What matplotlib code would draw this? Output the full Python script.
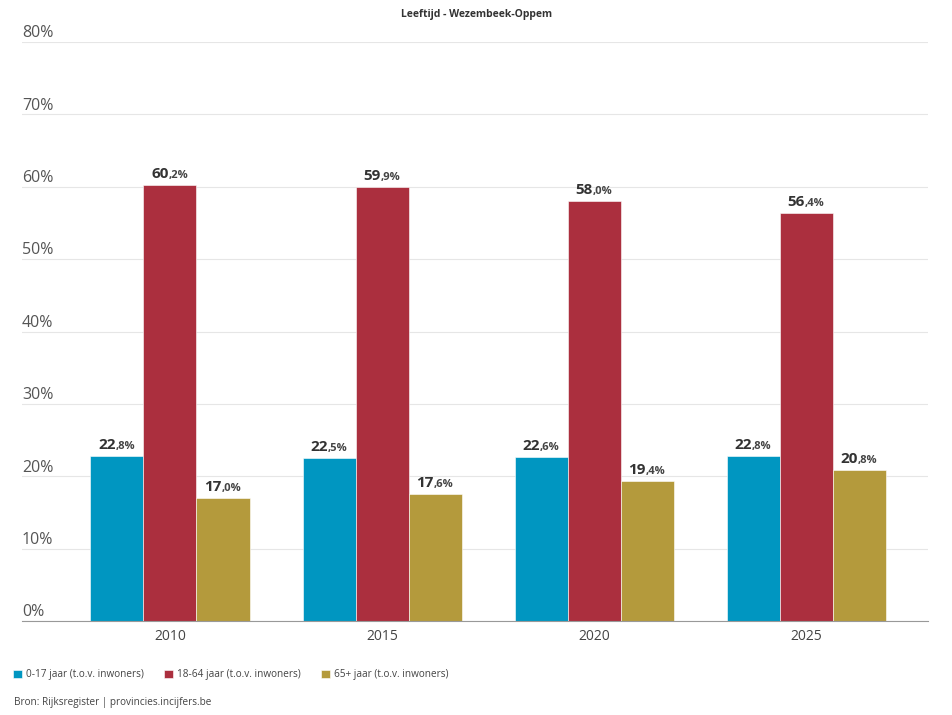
import matplotlib.pyplot as plt
import matplotlib.transforms as mtransforms
import numpy as np

plt.rcParams['font.family'] = ['Open Sans', 'DejaVu Sans']

years = ['2010', '2015', '2020', '2025']
series = ['0-17 jaar (t.o.v. inwoners)', '18-64 jaar (t.o.v. inwoners)', '65+ jaar (t.o.v. inwoners)']
jong = [22.8, 22.5, 22.6, 22.8]
actief = [60.2, 59.9, 58.0, 56.4]
oud = [17.0, 17.6, 19.4, 20.8]
colors = ['#0096c1', '#ab2f3e', '#b49a3c']

fig = plt.figure(figsize=[9.53, 7.15], dpi=100)
ax = fig.add_axes([22 / 953, (715 - 621) / 715, (928 - 22) / 953, (621 - 42) / 715])

x = np.arange(len(years))
w = 0.25
labels = []
for i, (vals, col, name) in enumerate(zip([jong, actief, oud], colors, series)):
    pos = x + (i - 1) * w
    ax.bar(pos, vals, w, color=col, label=name, edgecolor='white', linewidth=0.4)
    for p, v in zip(pos, vals):
        whole, dec = ('%.1f' % v).split('.')
        t1 = ax.text(p, v + 0.55, whole, ha='right', va='bottom', fontsize=11,
                     fontweight='bold', color='#333333')
        t2 = ax.text(p, v + 0.55, ',' + dec + '%', ha='left', va='bottom', fontsize=8,
                     fontweight='bold', color='#444444')
        labels.append((t1, t2))

ax.set_xlim(-0.698, 3.575)
ax.set_ylim(0, 80)
ax.set_yticks(range(0, 81, 10))
ax.set_yticklabels([])
for yv in range(0, 81, 10):
    ax.text(0, yv + 0.1, '%d%%' % yv, transform=ax.get_yaxis_transform(),
            ha='left', va='bottom', fontsize=11.5, color='#555555')
ax.grid(axis='y', color='#e6e6e6', linewidth=0.8)
ax.set_axisbelow(True)
ax.tick_params(axis='y', length=0)
ax.set_xticks(x)
ax.set_xticklabels(years, fontsize=10, color='#444444')
ax.tick_params(axis='x', length=0, pad=6)
for s in ['top', 'right', 'left']:
    ax.spines[s].set_visible(False)
ax.spines['bottom'].set_color('#999999')

# center split labels on bar
fig.canvas.draw()
r = fig.canvas.get_renderer()
for t1, t2 in labels:
    w1 = t1.get_window_extent(r).width
    w2 = t2.get_window_extent(r).width
    shift = (w1 - w2) / 2.0 * 72 / fig.dpi
    off = mtransforms.offset_copy(ax.transData, fig=fig, x=shift, y=0, units='points')
    t1.set_transform(off)
    t2.set_transform(off)

fig.text(0.5, 1 - 15 / 715, 'Leeftijd - Wezembeek-Oppem', ha='center', va='center',
         fontsize=7.5, fontweight='bold', color='#333333')

handles, lbls = ax.get_legend_handles_labels()
fig.legend(handles, lbls, loc='center left', bbox_to_anchor=(4 / 953, 1 - 675 / 715),
           ncol=3, frameon=False, fontsize=7.2, handlelength=0.9, handleheight=0.9,
           handletextpad=0.4, columnspacing=2.0, labelcolor='#444444')
fig.text(14 / 953, 1 - 702 / 715, 'Bron: Rijksregister | provincies.incijfers.be',
         ha='left', va='center', fontsize=7.2, color='#444444')

plt.savefig('out.png', dpi=100)
